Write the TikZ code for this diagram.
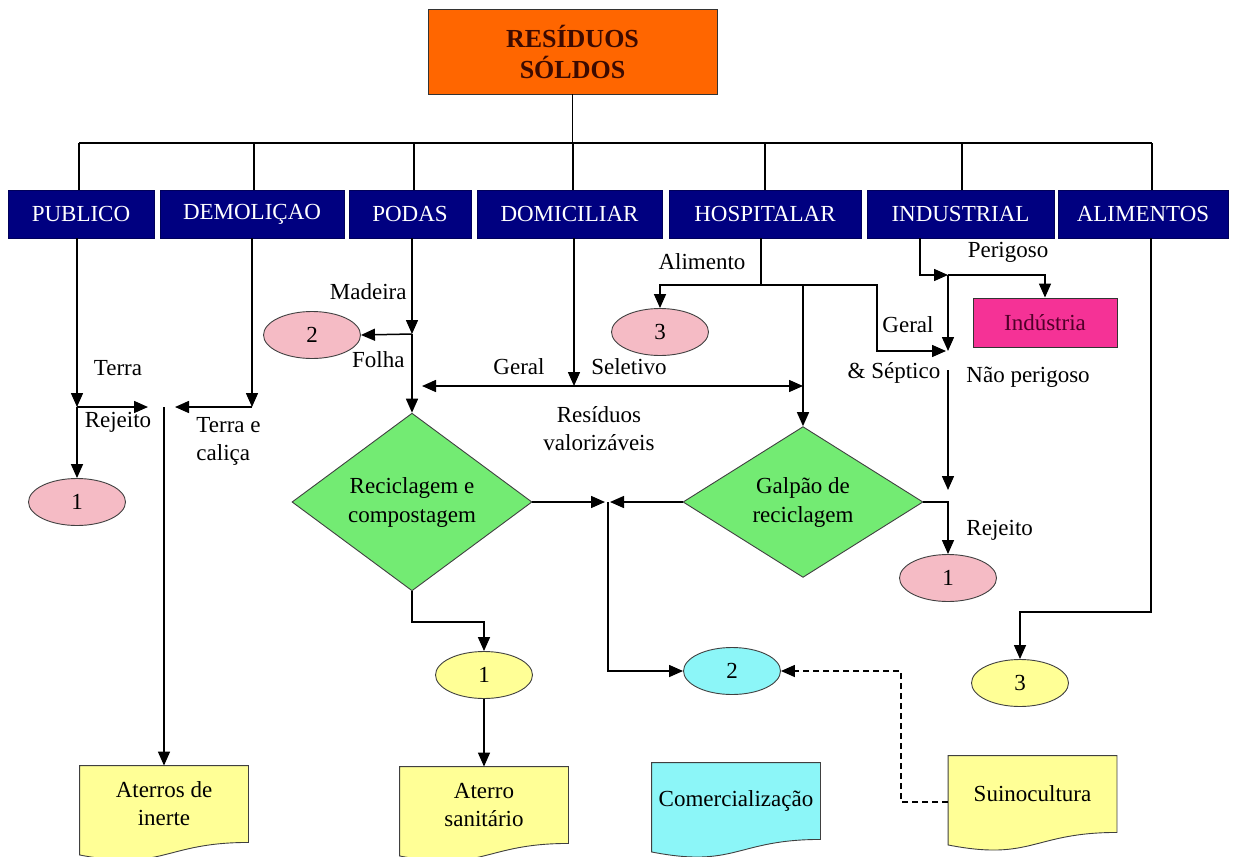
\documentclass[tikz,border=0pt]{standalone}
\usepackage{fontspec}
\setmainfont{Liberation Serif}
\usetikzlibrary{shapes.geometric,arrows.meta,calc,backgrounds}
\definecolor{cOrange}{RGB}{255,102,0}
\definecolor{cNavy}{RGB}{0,0,128}
\definecolor{cGreen}{RGB}{115,235,115}
\definecolor{cPink}{RGB}{245,187,197}
\definecolor{cCyan}{RGB}{140,246,248}
\definecolor{cYellow}{RGB}{255,255,150}
\definecolor{cMagenta}{RGB}{245,50,150}
\definecolor{cTopText}{RGB}{60,10,0}
\definecolor{cIndText}{RGB}{80,0,40}
\newcommand{\DocShape}[2]{%
  \begin{scope}[on background layer]
  \draw[docline, fill=#2] (#1.north west) -- (#1.north east) -- (#1.south east)
    .. controls (#1.south) and ($(#1.south)+(0,29)$) .. ($(#1.south west)+(0,12.5)$) -- cycle;
  \end{scope}}
\begin{document}
\begin{tikzpicture}[x=1pt,y=-1pt,
  line width=1.5pt,
  every node/.style={line width=0.9pt},
  arr/.style={-{Triangle[length=14pt,width=12pt]}},
  lbl/.style={font=\fontsize{23}{28}\selectfont, inner sep=1pt},
  topbox/.style={rectangle, fill=cOrange, draw=black!80, minimum width=289, minimum height=85,
    align=center, text=cTopText, font=\bfseries\fontsize{26}{31}\selectfont},
  cat/.style={rectangle, fill=cNavy, draw=cNavy!70!black, text=white, minimum height=48,
    inner sep=0, font=\fontsize{23}{27}\selectfont},
  oval/.style={ellipse, draw=black!75, minimum width=97, minimum height=47, inner sep=0,
    font=\fontsize{23}{27}\selectfont},
  dia/.style={diamond, draw=black!75, fill=cGreen, minimum width=240, minimum height=143,
    inner sep=0, align=center, font=\fontsize{23}{29}\selectfont},
  docnode/.style={rectangle, minimum width=168, minimum height=76, inner sep=0, align=center,
    font=\fontsize{23}{28}\selectfont},
  docline/.style={draw=black!75, line width=0.9pt}
]
\useasboundingbox (0,0) rectangle (1240,857);
\begin{scope}[on background layer]
\fill[white] (0,0) rectangle (1240,857);
\end{scope}

% top
\node[topbox] (top) at (572.5,51.5) {RESÍDUOS\\SÓLDOS};

% categories
\node[cat, minimum width=146] (pub) at (81,214) {PUBLICO};
\node[cat, minimum width=184] (dem) at (252,214) {DEMOLIÇAO};
\node[cat, minimum width=122] (pod) at (410,214) {PODAS};
\node[cat, minimum width=185] (dom) at (569.5,214) {DOMICILIAR};
\node[cat, minimum width=192] (hos) at (765,214) {HOSPITALAR};
\node[cat, minimum width=187] (ind) at (960.5,214) {INDUSTRIAL};
\node[cat, minimum width=170] (ali) at (1143,214) {ALIMENTOS};

% ellipses
\node[oval, fill=cPink] (e1a) at (77,502) {1};
\node[oval, fill=cPink] (e2a) at (312,335) {2};
\node[oval, fill=cPink] (e3a) at (660,332) {3};
\node[oval, fill=cPink] (e1b) at (948,578) {1};
\node[oval, fill=cYellow] (e1c) at (484,675) {1};
\node[oval, fill=cCyan] (e2c) at (732,671) {2};
\node[oval, fill=cYellow] (e3c) at (1020,683) {3};

% Industria box
\node[rectangle, draw=black!80, fill=cMagenta, minimum width=144, minimum height=49,
  text=cIndText, font=\fontsize{23}{27}\selectfont] (indu) at (1045,322.5) {Indústria};

% diamonds
\node[dia] (d1) at (412,502) {Reciclagem e\\compostagem};
\node[dia] (d2) at (803,502) {Galpão de\\reciclagem};

% documents
\node[docnode] (doc1) at (164,804) {Aterros de\\inerte};
\node[docnode] (doc2) at (484,805) {Aterro\\sanitário};
\node[docnode] (doc3) at (736,801) {Comercialização};
\node[docnode] (doc4) at (1032.5,794) {Suinocultura};
\DocShape{doc1}{cYellow}
\DocShape{doc2}{cYellow}
\DocShape{doc3}{cCyan}
\DocShape{doc4}{cYellow}

% coordinates
\coordinate (bus) at (572.5,143);
\coordinate (b1) at ([xshift=-2]pub.north);
\coordinate (b2) at ([xshift=2]dem.north);
\coordinate (b3) at ([xshift=4]pod.north);
\coordinate (b4) at ([xshift=3.5]dom.north);
\coordinate (b5) at (hos.north);
\coordinate (b6) at ([xshift=1.5]ind.north);
\coordinate (b7) at ([xshift=9]ali.north);
\coordinate (pj) at (77,407);
\coordinate (ij) at (164,407);
\coordinate (dj) at (252,407);
\coordinate (podj) at (412,334);
\coordinate (domj) at (574,386);
\coordinate (gl) at (422,386);
\coordinate (gr) at (803,386);
\coordinate (hj) at (761,285);
\coordinate (hr) at (877,285);
\coordinate (indj) at (920,275);
\coordinate (ij1) at (948,275);
\coordinate (ij2) at (948,351);
\coordinate (nj) at (948,370);
\coordinate (rj) at (948,490);
\coordinate (aj) at (1151,612);
\coordinate (cj) at (608,502);

% bus
\draw (top.south) -- (bus);
\draw (b1 |- bus) -- (b7 |- bus);
\foreach \b in {b1,b2,b3,b4,b5,b6,b7} \draw (\b) -- (\b |- bus);

% PUBLICO / DEMOLICAO
\draw[arr] ([xshift=-4]pub.south) -- (pj);
\draw[arr] (pj) -- (e1a.north);
\draw[arr] (pj) -- ([xshift=-16]ij);
\draw[arr] (ij) -- (doc1.north);
\draw[arr] (dem.south) -- (dj);
\draw[arr] (dj) -- ([xshift=11]ij);

% PODAS
\draw[arr] ([xshift=2]pod.south) -- (podj);
\draw[arr] (podj) -- (e2a.east);
\draw[arr] (podj) -- (d1.north);

% DOMICILIAR
\draw[arr] ([xshift=4.5]dom.south) -- (domj);
\draw[arr] (domj) -- (gl);
\draw[arr] (domj) -- (gr);

% HOSPITALAR
\draw ([xshift=-4]hos.south) -- (hj);
\draw[arr] (hj) -| (e3a.north);
\draw[arr] (hj) -- (hr) |- ([xshift=-2]ij2);
\draw[arr] (d2.north |- hj) -- (d2.north);

% INDUSTRIAL
\draw[arr] ([xshift=-40.5]ind.south) -- (indj) -- (ij1);
\draw[arr] (ij1) -| (indu.north);
\draw[arr] (ij1) -- (ij2);
\draw[arr] (nj) -- (rj);
\draw[arr] (d2.east) -| (e1b.north);

% ALIMENTOS
\draw[arr] ([xshift=8]ali.south) -- (aj) -| (e3c.north);

% lower part
\draw[arr] (d1.south) |- ([yshift=29]e1c.north) -- (e1c.north);
\draw[arr] (e1c.south) -- (doc2.north);
\draw[arr] (d1.east) -- ([xshift=-3]cj);
\draw[arr] (d2.west) -- ([xshift=2]cj);
\draw[arr] (cj) |- (e2c.west);
\draw[arr, dashed, dash pattern=on 6pt off 4pt] ([yshift=-8]doc4.west) -- ++(-47,0) |- (e2c.east);

% labels
\node[lbl] (tTerra) at (118,368) {Terra};
\node[lbl] (tRej1) at (118,422) {Rejeito};
\node[lbl, anchor=west, align=left] (tTC) at (195,441) {Terra e\\caliça};
\node[lbl, anchor=east] (tMad) at (408,292) {Madeira};
\node[lbl, anchor=east] (tFol) at (406,360) {Folha};
\node[lbl] (tGer1) at (519,367) {Geral};
\node[lbl] (tSel) at (629,367) {Seletivo};
\node[lbl, align=center] (tRV) at (599,429) {Resíduos\\valorizáveis};
\node[lbl] (tAli) at (702,262) {Alimento};
\node[lbl] (tGer2) at (908,325) {Geral};
\node[lbl] (tSep) at (894,373) {\& Séptico};
\node[lbl] (tPer) at (1008,252) {Perigoso};
\node[lbl, anchor=west] (tNP) at (965,377) {Não perigoso};
\node[lbl, anchor=west] (tRej2) at (965,530) {Rejeito};
\end{tikzpicture}
\end{document}
